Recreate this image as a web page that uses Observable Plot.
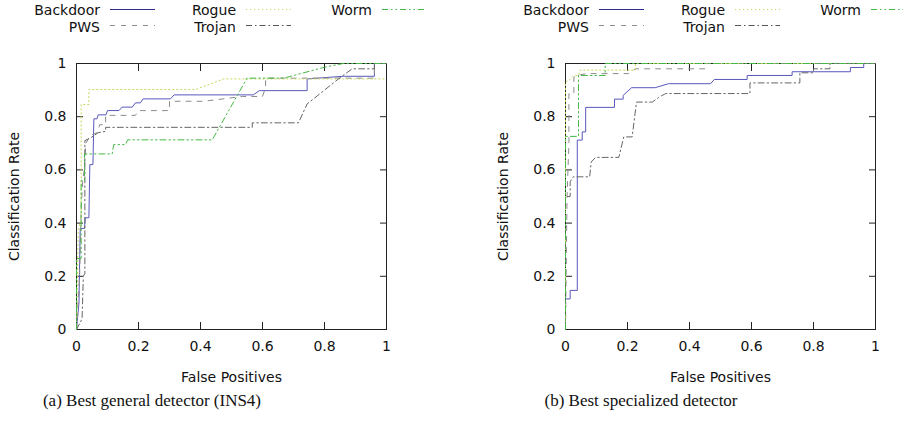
<!DOCTYPE html>
<html><head><meta charset="utf-8">
<script src="https://cdn.jsdelivr.net/npm/d3@7"></script>
<script src="https://cdn.jsdelivr.net/npm/@observablehq/plot@0.6"></script>
<style>
body{margin:0;background:#fff;}
#wrap{position:relative;width:903px;height:423px;overflow:hidden;font-family:"DejaVu Sans";color:#111;}
.panel{position:absolute;top:0;}
.leg{position:absolute;width:200px;text-align:right;font-size:14px;line-height:16px;white-space:nowrap;}
.legline{position:absolute;}
.cap{position:absolute;top:391px;font-family:"Liberation Serif";font-size:17px;line-height:20px;white-space:nowrap;transform:translateX(-50%);}
</style></head><body><div id="wrap"></div>
<script>
// ---------- data ----------
const series = ["Backdoor", "PWS", "Rogue", "Trojan", "Worm"];
const captions = ["(a) Best general detector (INS4)", "(b) Best specialized detector"];
const xTicks = [0, 0.2, 0.4, 0.6, 0.8, 1];
const yTicks = [0, 0.2, 0.4, 0.6, 0.8, 1];
const xLabel = "False Positives";
const yLabel = "Classification Rate";

// (a) general detector
const genBackdoorFP = [0, 0.008, 0.012, 0.026, 0.028, 0.04, 0.043, 0.053, 0.056, 0.066, 0.07, 0.095, 0.1, 0.137, 0.147, 0.18, 0.19, 0.206, 0.215, 0.225, 0.303, 0.315, 0.57, 0.59, 0.744, 0.744, 0.86, 0.961, 0.961, 1];
const genBackdoorTP = [0, 0.1, 0.38, 0.38, 0.42, 0.42, 0.62, 0.62, 0.792, 0.792, 0.807, 0.807, 0.823, 0.823, 0.836, 0.836, 0.852, 0.852, 0.867, 0.867, 0.867, 0.882, 0.882, 0.898, 0.898, 0.942, 0.952, 0.952, 1, 1];
const genPwsFP = [0, 0.01, 0.015, 0.02, 0.025, 0.03, 0.045, 0.067, 0.075, 0.094, 0.094, 0.19, 0.2, 0.3, 0.3, 0.41, 0.535, 0.6, 0.61, 0.61, 0.961, 0.961, 1];
const genPwsTP = [0, 0.2, 0.45, 0.56, 0.6, 0.7, 0.73, 0.74, 0.77, 0.77, 0.805, 0.805, 0.823, 0.823, 0.858, 0.858, 0.876, 0.876, 0.91, 0.945, 0.945, 1, 1];
const genRogueFP = [0, 0.006, 0.015, 0.015, 0.04, 0.04, 0.384, 0.475, 1];
const genRogueTP = [0, 0.38, 0.41, 0.846, 0.846, 0.902, 0.902, 0.942, 0.942];
const genTrojanFP = [0, 0.018, 0.022, 0.027, 0.027, 0.045, 0.07, 0.094, 0.094, 0.567, 0.567, 0.716, 0.744, 0.845, 0.889, 0.961, 0.961, 1];
const genTrojanTP = [0, 0.04, 0.2, 0.21, 0.71, 0.72, 0.74, 0.745, 0.76, 0.76, 0.777, 0.777, 0.848, 0.942, 0.98, 0.98, 1, 1];
const genWormFP = [0, 0, 0.015, 0.015, 0.026, 0.026, 0.115, 0.12, 0.158, 0.165, 0.438, 0.55, 0.669, 0.8, 0.86, 1];
const genWormTP = [0, 0.267, 0.267, 0.56, 0.56, 0.66, 0.66, 0.695, 0.695, 0.713, 0.713, 0.945, 0.945, 0.986, 1, 1];

// (b) specialized detectors
const spBackdoorFP = [0, 0, 0.015, 0.015, 0.038, 0.038, 0.054, 0.054, 0.065, 0.065, 0.158, 0.158, 0.186, 0.186, 0.213, 0.289, 0.332, 0.468, 0.48, 0.586, 0.586, 0.731, 0.731, 0.919, 0.919, 0.962, 0.962, 1];
const spBackdoorTP = [0, 0.115, 0.115, 0.147, 0.147, 0.712, 0.712, 0.743, 0.743, 0.835, 0.835, 0.866, 0.866, 0.88, 0.909, 0.909, 0.924, 0.924, 0.94, 0.94, 0.955, 0.955, 0.969, 0.969, 0.985, 0.985, 1, 1];
const spPwsFP = [0, 0.005, 0.011, 0.011, 0.027, 0.027, 0.048, 0.07, 0.203, 0.226, 0.45, 0.45, 1];
const spPwsTP = [0, 0.5, 0.7, 0.886, 0.886, 0.948, 0.958, 0.962, 0.962, 0.98, 0.98, 1, 1];
const spRogueFP = [0, 0, 0.015, 0.027, 0.042, 0.047, 0.225, 0.226, 1];
const spRogueTP = [0, 0.93, 0.94, 0.955, 0.955, 0.975, 0.975, 1, 1];
const spTrojanFP = [0, 0, 0.015, 0.015, 0.025, 0.078, 0.083, 0.097, 0.172, 0.188, 0.215, 0.229, 0.28, 0.3, 0.323, 0.595, 0.595, 0.756, 0.756, 0.8, 0.8, 0.853, 0.853, 1];
const spTrojanTP = [0, 0.5, 0.5, 0.555, 0.574, 0.574, 0.63, 0.647, 0.647, 0.724, 0.724, 0.855, 0.855, 0.872, 0.887, 0.887, 0.927, 0.927, 0.965, 0.965, 0.98, 0.98, 1, 1];
const spWormFP = [0, 0, 0.042, 0.042, 0.128, 0.128, 1];
const spWormTP = [0, 0.726, 0.726, 0.955, 0.955, 1, 1];

const general = {Backdoor: [genBackdoorFP, genBackdoorTP], PWS: [genPwsFP, genPwsTP], Rogue: [genRogueFP, genRogueTP], Trojan: [genTrojanFP, genTrojanTP], Worm: [genWormFP, genWormTP]};
const specialized = {Backdoor: [spBackdoorFP, spBackdoorTP], PWS: [spPwsFP, spPwsTP], Rogue: [spRogueFP, spRogueTP], Trojan: [spTrojanFP, spTrojanTP], Worm: [spWormFP, spWormTP]};

// ---------- styles ----------
const lineStyle = {
  Backdoor: {stroke: "#5858bc", key: "#2c2c8e", dash: null},
  PWS: {stroke: "#8c8c8c", key: "#8c8c8c", dash: "5,6"},
  Rogue: {stroke: "#c6d65a", key: "#c6d65a", dash: "1.2,2.8"},
  Trojan: {stroke: "#666666", key: "#555555", dash: "6,3,1.5,3"},
  Worm: {stroke: "#44b844", key: "#44b844", dash: "6,3,1.5,3,1.5,3"}
};

const wrap = document.getElementById("wrap");

function toRows(obj) {
  const rows = [];
  for (const s of series) {
    const [fp, tp] = obj[s];
    fp.forEach((v, i) => rows.push({series: s, fp: v, tp: tp[i]}));
  }
  return rows;
}

function panel(ox, obj, caption) {
  const rows = toRows(obj);
  const marks = [
    Plot.frame({stroke: "#222"}),
    Plot.axisX({anchor: "bottom", ticks: xTicks, tickSize: -7, tickPadding: 19, tickFormat: d => String(d), stroke: "#222",
      label: xLabel, labelAnchor: "center", labelOffset: 52, labelArrow: "none"}),
    Plot.axisX({anchor: "top", ticks: xTicks, tickSize: -7, tickFormat: () => "", stroke: "#222", label: null}),
    Plot.axisY({anchor: "left", ticks: yTicks, tickSize: -7, tickPadding: 17, tickFormat: d => String(d), stroke: "#222",
      label: yLabel, labelAnchor: "center", labelOffset: 67, labelArrow: "none"}),
    Plot.axisY({anchor: "right", ticks: yTicks, tickSize: -7, tickFormat: () => "", stroke: "#222", label: null}),
    ...series.map(s => Plot.line(rows.filter(r => r.series === s), {
      x: "fp", y: "tp", stroke: lineStyle[s].stroke, strokeWidth: 1,
      strokeDasharray: lineStyle[s].dash || undefined
    }))
  ];
  const svg = Plot.plot({
    width: 414, height: 390,
    marginLeft: 76, marginRight: 28, marginTop: 63, marginBottom: 61,
    x: {domain: [0, 1]}, y: {domain: [0, 1]},
    style: {fontFamily: "DejaVu Sans", fontSize: "14px", background: "transparent", color: "#111", overflow: "visible"},
    marks
  });
  svg.classList.add("panel");
  svg.style.left = ox + "px";
  svg.style.position = "absolute";
  svg.style.top = "0px";
  wrap.appendChild(svg);

  // legend: columns of two rows (gnuplot key order)
  series.forEach((s, i) => {
    const col = Math.floor(i / 2), row = i % 2;
    const end = ox + 100 + 136 * col;
    const t = document.createElement("div");
    t.className = "leg";
    t.textContent = s;
    t.style.left = (end - 200) + "px";
    t.style.top = (row === 0 ? 2 : 18.5) + "px";
    wrap.appendChild(t);
    const ns = "http://www.w3.org/2000/svg";
    const ls = document.createElementNS(ns, "svg");
    ls.setAttribute("width", 46); ls.setAttribute("height", 5);
    ls.setAttribute("class", "legline");
    ls.style.left = (end + 10) + "px";
    ls.style.top = (row === 0 ? 7 : 23) + "px";
    const ln = document.createElementNS(ns, "line");
    ln.setAttribute("x1", 0); ln.setAttribute("x2", 45);
    ln.setAttribute("y1", 2.5); ln.setAttribute("y2", 2.5);
    ln.setAttribute("stroke", lineStyle[s].key);
    ln.setAttribute("stroke-width", 1);
    if (lineStyle[s].dash) ln.setAttribute("stroke-dasharray", lineStyle[s].dash);
    ls.appendChild(ln);
    wrap.appendChild(ls);
  });

  const c = document.createElement("div");
  c.className = "cap";
  c.textContent = caption;
  c.style.left = (ox + 152) + "px";
  wrap.appendChild(c);
}

panel(0, general, captions[0]);
panel(489, specialized, captions[1]);
</script></body></html>
